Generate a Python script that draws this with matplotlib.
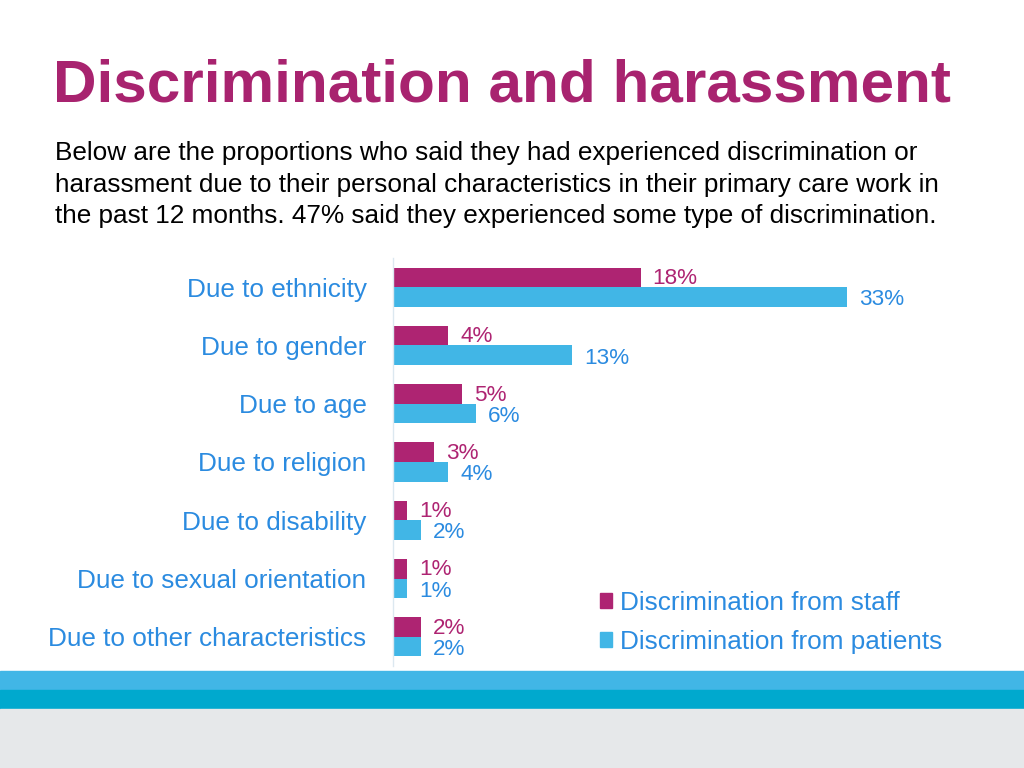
import numpy as np
import matplotlib.pyplot as plt
from matplotlib.patches import Rectangle, Patch

plt.rcParams['font.family'] = ['Liberation Sans', 'DejaVu Sans']

categories = ['Due to ethnicity', 'Due to gender', 'Due to age', 'Due to religion',
              'Due to disability', 'Due to sexual orientation', 'Due to other characteristics']
staff = [18, 4, 5, 3, 1, 1, 2]
patients = [33, 13, 6, 4, 2, 1, 2]
series_names = ['Discrimination from staff', 'Discrimination from patients']

magenta = '#AE2472'
blue = '#41B6E6'
label_blue = '#2B8BE0'
title_col = '#A8236F'

W, H = 1024, 768
fig = plt.figure(figsize=(W / 100, H / 100), dpi=100)

# bottom bands
fig.patches.append(Rectangle((0, 1 - 690 / H), 1, 19 / H, transform=fig.transFigure,
                             color=blue, zorder=0))
fig.patches.append(Rectangle((0, 1 - 709 / H), 1, 19 / H, transform=fig.transFigure,
                             color='#00A9CE', zorder=0))
fig.patches.append(Rectangle((0, 0), 1, 1 - 709 / H, transform=fig.transFigure,
                             color='#E6E8EA', zorder=0))

# titles
fig.text(53 / W, 1 - 86 / H, 'Discrimination and harassment', fontsize=43.4, fontweight='bold',
         color=title_col, va='center', ha='left')
subtitle = ('Below are the proportions who said they had experienced discrimination or\n'
            'harassment due to their personal characteristics in their primary care work in\n'
            'the past 12 months. 47% said they experienced some type of discrimination.')
fig.text(55 / W, 1 - 141 / H, subtitle, fontsize=18.8, color='black', va='top', ha='left',
         linespacing=1.4)

# chart axes: rows 58.33 px apart, spine from y=258 to 666
ax_left, ax_right = 393, 943
ax_top, ax_bot = 258, 666
ax = fig.add_axes([ax_left / W, 1 - ax_bot / H, (ax_right - ax_left) / W, (ax_bot - ax_top) / H])
px_per_pct = (847 - 393) / 33
ax.set_xlim(0, (ax_right - ax_left) / px_per_pct)
ax.set_ylim(len(categories) - 0.5, -0.5)

y = np.arange(len(categories))
h = 0.335
ax.barh(y - h / 2, staff, height=h, color=magenta)
ax.barh(y + h / 2, patients, height=h, color=blue)

off = 12 / px_per_pct
for i in range(len(categories)):
    ax.text(staff[i] + off, y[i] - h / 2 + 0.02, f'{staff[i]}%', color=magenta, fontsize=16.2,
            va='center', ha='left')
    ax.text(patients[i] + off, y[i] + h / 2 + 0.05, f'{patients[i]}%', color=label_blue,
            fontsize=16.2, va='center', ha='left')

ax.set_yticks(y)
ax.set_yticklabels(categories, fontsize=18.8, color=label_blue)
ax.tick_params(axis='y', length=0, pad=19)
ax.set_xticks([])
for s in ['top', 'right', 'bottom']:
    ax.spines[s].set_visible(False)
ax.spines['left'].set_color('#DCE8F0')
ax.spines['left'].set_linewidth(1)

handles = [Patch(color=magenta), Patch(color=blue)]
leg = fig.legend(handles, series_names, loc='upper left',
                 bbox_to_anchor=(592 / W, 1 - 583 / H), frameon=False, fontsize=18.8,
                 handlelength=0.46, handleheight=0.46, handletextpad=0.3, labelspacing=0.57,
                 borderaxespad=0, borderpad=0.3)
for t in leg.get_texts():
    t.set_color(label_blue)

fig.savefig('out.png', dpi=100)
